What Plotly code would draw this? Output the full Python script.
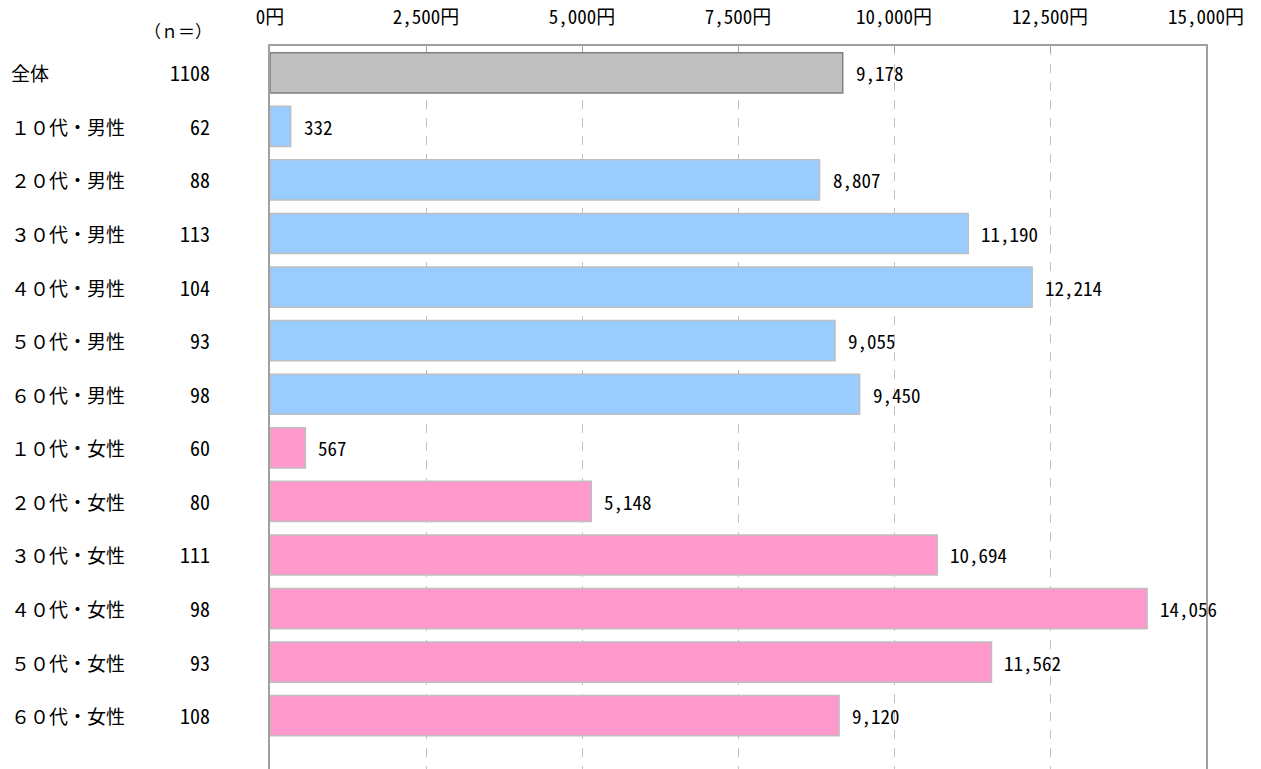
import plotly.graph_objects as go

categories = ["全体", "１０代・男性", "２０代・男性", "３０代・男性", "４０代・男性", "５０代・男性", "６０代・男性",
              "１０代・女性", "２０代・女性", "３０代・女性", "４０代・女性", "５０代・女性", "６０代・女性"]
n_values = [1108, 62, 88, 113, 104, 93, 98, 60, 80, 111, 98, 93, 108]
amounts = [9178, 332, 8807, 11190, 12214, 9055, 9450, 567, 5148, 10694, 14056, 11562, 9120]
groups = ["all"] + ["male"] * 6 + ["female"] * 6
tick_vals = [0, 2500, 5000, 7500, 10000, 12500, 15000]
tick_text = ["0円", "2,500円", "5,000円", "7,500円", "10,000円", "12,500円", "15,000円"]

fill = {"all": "#C0C0C0", "male": "#99CCFF", "female": "#FF99CC"}
edge = {"all": "#808080", "male": "#BFBFBF", "female": "#BFBFBF"}

FONT = "Noto Sans Mono CJK JP, Noto Sans CJK JP, sans-serif"
CJK = "Noto Sans CJK JP"
W, H = 1261, 769
L, R, T, B = 270, 55, 46, 0
pw = W - L - R

fig = go.Figure()
fig.add_trace(go.Bar(
    x=amounts, y=categories, orientation="h", width=0.75,
    marker=dict(color=[fill[g] for g in groups],
                line=dict(color=[edge[g] for g in groups], width=1.5)),
    hoverinfo="skip",
))

ann = []
for c, v in zip(categories, amounts):
    ann.append(dict(x=v, y=c, xref="x", yref="y", text=f"{v:,}", showarrow=False,
                    xanchor="left", xshift=11, font=dict(family=FONT, size=19, color="#000")))
for c, n in zip(categories, n_values):
    ann.append(dict(x=(9 - L) / pw, y=c, xref="paper", yref="y", text=c, showarrow=False,
                    xanchor="left", font=dict(family=CJK, size=19, color="#000")))
    ann.append(dict(x=(212 - L) / pw, y=c, xref="paper", yref="y", text=str(n), showarrow=False,
                    xanchor="right", font=dict(family=FONT, size=20, color="#000")))
ann.append(dict(x=(214 - L) / pw, y=1, yref="paper", xref="paper", yshift=16, text="（ｎ＝）",
                showarrow=False, xanchor="right", yanchor="middle",
                font=dict(family=CJK, size=17, color="#000")))

fig.update_layout(
    width=W, height=H, margin=dict(l=L, r=R, t=T, b=B),
    paper_bgcolor="white", plot_bgcolor="white", showlegend=False,
    annotations=ann,
    xaxis=dict(side="top", range=[0, 15000], tickvals=tick_vals, ticktext=tick_text,
               tickfont=dict(family=FONT, size=19, color="#000"), ticklabelstandoff=12,
               showgrid=True, gridcolor="#C0C0C0", griddash="dash", gridwidth=1,
               showline=True, linecolor="#A0A0A0", linewidth=2,
               ticks="inside", ticklen=6, tickcolor="#A0A0A0", zeroline=False, fixedrange=True),
    yaxis=dict(range=[12.995, -0.5], showticklabels=False, showgrid=False,
               showline=True, linecolor="#A0A0A0", linewidth=2, mirror=True, ticks="",
               fixedrange=True),
)

fig.write_html("out.html")
